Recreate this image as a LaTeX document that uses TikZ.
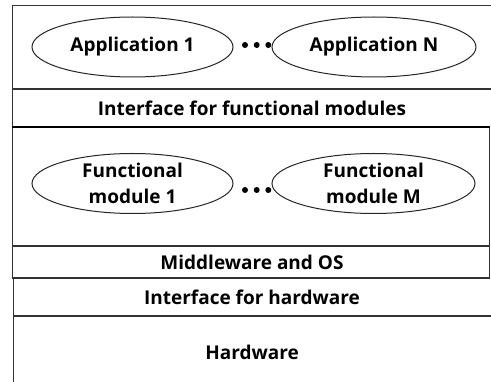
\documentclass[tikz,border=0pt]{standalone}
\usepackage{fontspec}
\setmainfont{Open Sans}
\usetikzlibrary{shapes.geometric}
\begin{document}
\begin{tikzpicture}[x=1pt,y=-1pt,
  frame/.style={draw=black!80,line width=1.3pt},
  thickframe/.style={draw=black,line width=2pt},
  app/.style={ellipse,draw=black!85,line width=1pt,minimum height=60pt,inner sep=0pt,
    font=\fontsize{19}{26}\selectfont\bfseries,align=center},
  lbl/.style={font=\fontsize{19}{22}\selectfont\bfseries,inner sep=0pt},
  dot/.style={circle,fill=black,inner sep=0pt,minimum size=6pt}]
\useasboundingbox (0,0) rectangle (491,382);
% frame lines
\draw[frame] (493,5.5) -- (12.5,5.5) -- (12.5,278) -- (489.5,278) -- (489.5,127);
\draw[frame] (12.5,89) -- (493,89);
\draw[thickframe] (12,127) -- (490.2,127);
\draw[frame] (12.5,246) -- (489.5,246);
\draw[frame] (13.3,278) -- (13.3,390);
\draw[frame] (13.3,316) -- (493,316);
% applications
\node[app,minimum width=201pt] (a1) at (132.5,47) {Application 1};
\node[app,minimum width=204pt] (aN) at (374,47) {Application N};
\node[dot] (ad1) at (245,45) {};
\node[dot] (ad2) at (256.7,45) {};
\node[dot] (ad3) at (268.3,45) {};
\node[lbl] (ifm) at (252,108) {Interface for functional modules};
% functional modules
\node[app,minimum width=201pt] (m1) at (132.5,183.5) {Functional\\module 1};
\node[app,minimum width=203pt] (mM) at (373.5,183.5) {Functional\\module M};
\node[dot] (md1) at (245,190) {};
\node[dot] (md2) at (256.7,190) {};
\node[dot] (md3) at (268.3,190) {};
\node[lbl] (mw) at (252,262) {Middleware and OS};
\node[lbl] (ihw) at (252,297) {Interface for hardware};
\node[lbl] (hw) at (252,352) {Hardware};
\end{tikzpicture}
\end{document}
